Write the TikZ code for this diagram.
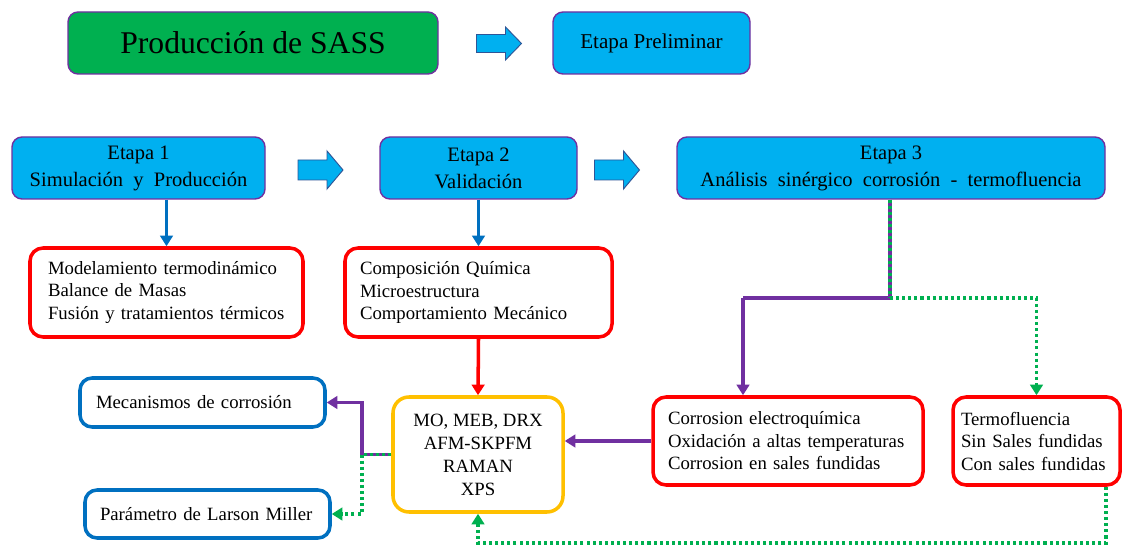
\documentclass[tikz,border=0pt]{standalone}
\usepackage{fontspec}
\setmainfont{Liberation Serif}
\usetikzlibrary{arrows.meta}
\newlength\pxu \setlength\pxu{0.03cm}
\definecolor{cgreen}{HTML}{00B050}
\definecolor{ccyan}{HTML}{00B0F0}
\definecolor{cpurple}{HTML}{7030A0}
\definecolor{cred}{HTML}{FF0000}
\definecolor{cyellow}{HTML}{FFC000}
\definecolor{cblue}{HTML}{0070C0}
\definecolor{cdark}{HTML}{2F5597}
\newcommand{\myblockarrow}[4]{% center x, center y, shaft half, head half
  \draw[blockarrow] (#1-22.5,#2-#3) -- (#1+6.5,#2-#3) -- (#1+6.5,#2-#4) -- (#1+22.5,#2)
    -- (#1+6.5,#2+#4) -- (#1+6.5,#2+#3) -- (#1-22.5,#2+#3) -- cycle;}
\tikzset{
  stagebox/.style={draw=cpurple, line width=1.2pt, fill=ccyan, rounded corners=10\pxu, align=center, inner sep=0pt,
    font=\fontsize{17.5pt}{23pt}\selectfont},
  listbox/.style={draw=cred, line width=3pt, fill=white, rounded corners=13\pxu, align=left, inner ysep=0pt,
    font=\fontsize{16pt}{19.2pt}\selectfont},
  outbox/.style={draw=cblue, line width=3pt, fill=white, rounded corners=12\pxu, align=left, inner ysep=0pt,
    font=\fontsize{16pt}{19.2pt}\selectfont},
  techbox/.style={draw=cyellow, line width=3pt, fill=white, rounded corners=16\pxu, align=center, inner sep=0pt,
    font=\fontsize{16pt}{19.6pt}\selectfont},
  blockarrow/.style={draw=cdark, line width=0.8pt, fill=ccyan, line join=miter},
  tip/.style={-{Triangle[length=3.2mm,width=3.8mm]}},
  blueline/.style={draw=cblue, line width=2.8pt, tip},
  redline/.style={draw=cred, line width=3pt, tip},
  purpleline/.style={draw=cpurple, line width=3pt},
  greenline/.style={draw=cgreen, line width=3pt, dash pattern=on 2.6pt off 2.6pt},
}
\begin{document}
\begin{tikzpicture}[x=0.03cm,y=-0.03cm]
\useasboundingbox[fill=white] (0,0) rectangle (1125,545);

% top row
\node[stagebox, fill=cgreen, minimum width=370\pxu, minimum height=62\pxu, font=\fontsize{27pt}{30pt}\selectfont] (title) at (253,43) {Producción de SASS};
\myblockarrow{499}{43.5}{9}{16.5}
\node[stagebox, minimum width=197\pxu, minimum height=62\pxu, font=\fontsize{18pt}{20pt}\selectfont] (prelim) at (651.5,43) {Etapa Preliminar};

% stages
\node[stagebox, minimum width=253\pxu, minimum height=62\pxu] (e1) at (138.5,168) {Etapa 1\\Simulación\ \ y\ \ Producción};
\myblockarrow{320.5}{170}{10}{19}
\node[stagebox, minimum width=197\pxu, minimum height=62\pxu] (e2) at (478.5,168) {Etapa 2\\Validación};
\myblockarrow{617}{170}{10}{19}
\node[stagebox, minimum width=428\pxu, minimum height=62\pxu] (e3) at (891,168) {Etapa 3\\Análisis\ \ sinérgico\ \ corrosión\ \ -\ \ termofluencia};

% lists
\node[listbox, minimum height=89\pxu, inner xsep=18\pxu, text width=237\pxu] (b1) at (166.5,292.5)
  {Modelamiento termodinámico\\Balance de Masas\\Fusión y tratamientos térmicos};
\node[listbox, minimum height=89\pxu, inner xsep=15\pxu, text width=237\pxu] (b2) at (478.5,292.5)
  {Composición Química\\Microestructura\\Comportamiento Mecánico};

\node[techbox, minimum width=170\pxu, minimum height=115\pxu] (yl) at (478,454.5)
  {MO, MEB, DRX\\AFM-SKPFM\\RAMAN\\XPS};

\node[outbox, minimum height=49\pxu, inner xsep=16\pxu, text width=213\pxu] (mec) at (202.5,402.5) {Mecanismos de corrosión};
\node[outbox, minimum height=48\pxu, inner xsep=15\pxu, text width=215\pxu] (lm) at (207.5,514) {Parámetro de Larson Miller};

\node[listbox, minimum height=88\pxu, inner xsep=15\pxu, text width=240\pxu] (cor) at (788,441)
  {Corrosion electroquímica\\Oxidación a altas temperaturas\\Corrosion en sales fundidas};
\node[listbox, minimum height=88\pxu, inner xsep=8\pxu, text width=151\pxu] (ter) at (1036.5,441)
  {Termofluencia\\Sin Sales fundidas\\Con sales fundidas};

% connectors
\draw[blueline] (b1.north |- e1.south) -- (b1.north);
\draw[blueline] (e2.south) -- (b2.north);
\draw[redline] (b2.south) -- (yl.north);

\coordinate (j) at (890,298);
\coordinate (ca) at (743,298);
\draw[purpleline] (e3.south -| j) -- (j) -- (ca);
\draw[purpleline, tip] (ca) -- (ca |- cor.north);
\draw[greenline] (e3.south -| j) -- (j);
\draw[greenline, tip] (j) -| (ter.north);

\draw[purpleline, tip] (cor.west) -- (cor.west -| yl.east);

\coordinate (k) at (362,454.5);
\draw[purpleline] (yl.west) -- (k);
\draw[greenline] (yl.west) -- (k);
\draw[purpleline, tip] (k) |- (mec.east);
\draw[greenline, tip] (k) |- (lm.east);

\coordinate (tb) at (1106,543);
\draw[greenline, tip] (tb |- ter.south) -- (tb) -| (yl.south);
\end{tikzpicture}
\end{document}
